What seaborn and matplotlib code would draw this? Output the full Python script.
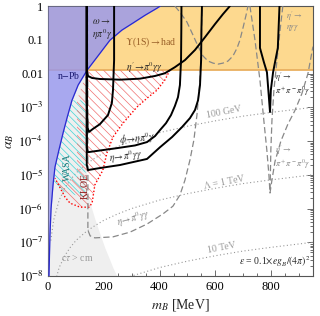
import numpy as np
import pandas as pd
import matplotlib
matplotlib.use("Agg")
import matplotlib.pyplot as plt
import seaborn as sns

sns.set_theme(style="ticks")
plt.rcParams.update({
    "font.family": ["Liberation Serif", "DejaVu Serif"],
    "mathtext.fontset": "stix",
    "hatch.linewidth": 0.5,
    "axes.edgecolor": "#555555",
    "xtick.color": "#555555",
    "ytick.color": "#555555",
    "xtick.labelcolor": "black",
    "ytick.labelcolor": "black",
})

# masses in MeV, couplings stored as log10(alpha_B)

# n-Pb scattering (blue)
npb_m = [3.5, 7, 11, 18, 25, 39, 54, 68, 86, 108, 140, 176, 222, 265, 305, 348, 391, 402]
npb_la = [-8.0, -6.8, -6.0, -5.3, -4.77, -4.27, -3.76, -3.32, -2.79, -2.34, -1.90, -1.51, -1.01,
          -0.71, -0.50, -0.27, -0.06, 0.0]

# Upsilon(1S) -> hadrons (orange band)
upsilon_alpha_min = 0.0127

# c tau > cm region (grey)
ctau_m = [247, 233, 219, 204, 190, 179, 168, 158, 151, 143, 138, 138]
ctau_la = [-8.0, -7.76, -7.47, -7.17, -6.84, -6.58, -6.31, -6.04, -5.84, -5.60, -5.3, 0.0]

# WASA (cyan hatch)
wasa_m = [86, 68, 54, 39, 25, 18, 36, 61, 97, 135, 135]
wasa_la = [-2.79, -3.32, -3.76, -4.27, -4.77, -5.24, -5.39, -5.51, -5.60, -5.66, -2.79]

# KLOE (red hatch, dotted edge)
kloe_m = [437, 419, 391, 355, 319, 269, 233, 211, 197, 168, 158, 147, 115, 79, 61, 25,
          104, 104, 140]
kloe_la = [-1.90, -2.19, -2.49, -2.73, -2.99, -3.47, -3.88, -4.36, -4.86, -5.30, -5.84, -5.96,
           -5.96, -5.84, -5.66, -5.10, -5.16, -2.79, -1.90]
kloe_edge_n = 16

# current limits (black solid)
omega_m = [237, 237, 233, 229, 215, 186, 161, 147, 142, 139, 139]
omega_la = [0.0, -1.60, -2.49, -2.87, -3.23, -3.50, -3.64, -3.73, -3.61, -2.79, 0.0]

etap_pi0gg_m = [139, 139, 143, 158, 186, 258, 330, 384, 419, 455, 491, 527, 563, 599, 627, 652]
etap_pi0gg_la = [0.0, -1.90, -2.07, -2.13, -2.16, -2.18, -2.15, -2.07, -1.99, -1.81, -1.60,
                 -1.30, -0.92, -0.53, -0.24, 0.0]

phi_m = [139, 139, 143, 186, 247, 312, 355, 384, 402, 423, 441, 455, 466, 473, 477, 478, 478.5]
phi_la = [0.0, -4.2, -4.33, -4.28, -4.21, -4.13, -4.03, -3.85, -3.67, -3.47, -3.23, -2.96,
          -2.70, -2.34, -1.60, -0.71, 0.0]

eta_m = [139, 139, 143, 186, 258, 355, 402, 445, 480, 509, 527, 538, 545, 549, 550, 552]
eta_la = [0.0, -4.7, -4.86, -4.80, -4.71, -4.53, -4.18, -3.88, -3.59, -3.32, -3.08, -2.79,
          -2.34, -1.60, -0.71, 0.0]

etap_3pi_m = [760, 760, 774, 785, 790, 796, 799, 807, 814, 824, 830]
etap_3pi_la = [0.0, -1.24, -1.66, -1.96, -2.49, -3.14, -2.49, -1.96, -1.66, -1.24, 0.0]

# projections (grey dashed)
eta_proj_m = [143, 143, 151, 168, 233, 294, 355, 412, 448, 473, 491, 509, 523, 534, 545, 550, 552]
eta_proj_la = [0.0, -6.64, -6.81, -6.87, -6.84, -6.70, -6.46, -6.16, -5.93, -5.60, -5.16, -4.56,
               -3.97, -3.23, -2.19, -1.01, 0.0]

upper_proj_m = [455, 473, 498, 520, 538, 556, 574, 592, 609, 627, 645, 663, 678, 688, 699, 710, 717]
upper_proj_la = [0.0, -0.18, -0.47, -0.86, -1.19, -1.48, -1.63, -1.69, -1.72, -1.69, -1.63,
                 -1.48, -1.24, -1.01, -0.65, -0.27, 0.0]

etap_3pi_proj_m = [724, 742, 760, 774, 785, 792, 796, 803, 814, 835, 860, 885, 910, 932, 950]
etap_3pi_proj_la = [0.0, -1.0, -2.2, -3.4, -4.3, -5.0, -5.54, -5.15, -4.6, -4.0, -3.5, -3.1,
                    -2.6, -2.0, -1.2]

etap_3pi_inner_m = [842, 832, 821, 810, 803, 799, 796]
etap_3pi_inner_la = [0.0, -0.71, -1.6, -2.49, -3.38, -4.27, -5.54]

# epsilon = 0.1 e g_B/(4 pi)^2 lines for Lambda = 100 GeV, 1 TeV, 10 TeV
lam_m = [10, 20, 40, 60, 80, 100, 130, 160, 200, 250, 300, 400, 500, 600, 700, 800, 950]
lam100_la = [-6.95, -6.35, -5.75, -5.40, -5.15, -4.95, -4.73, -4.55, -4.35, -4.16, -4.0, -3.75,
             -3.56, -3.40, -3.26, -3.15, -3.0]
lam1k_la = [-8.95, -8.35, -7.75, -7.40, -7.15, -6.95, -6.73, -6.55, -6.35, -6.16, -6.0, -5.75,
            -5.56, -5.40, -5.26, -5.15, -5.0]
lam10k_la = [-10.95, -10.35, -9.75, -9.40, -9.15, -8.95, -8.73, -8.55, -8.35, -8.16, -8.0,
             -7.75, -7.56, -7.40, -7.26, -7.15, -7.0]

xticks = [0, 200, 400, 600, 800]
yticks = [1, 1e-1, 1e-2, 1e-3, 1e-4, 1e-5, 1e-6, 1e-7, 1e-8]
ytick_labels = ["1", "0.1", "0.01", r"$10^{-3}$", r"$10^{-4}$", r"$10^{-5}$",
                r"$10^{-6}$", r"$10^{-7}$", r"$10^{-8}$"]


def a(la):
    return 10.0 ** np.asarray(la, dtype=float)


def curve(ax, m, la, **kw):
    d = pd.DataFrame({"m": m, "alpha": a(la)})
    sns.lineplot(data=d, x="m", y="alpha", sort=False, estimator=None, ax=ax, **kw)


fig = plt.figure(figsize=(3.2, 3.16), dpi=100)
ax = fig.add_axes([0.15, 0.1266, 0.828, 0.854])
ax.set_yscale("log")
ax.set_xlim(0, 950)
ax.set_ylim(1e-8, 1)

# regions
ax.fill_betweenx(a(ctau_la), 0, ctau_m, color="#efefef", lw=0, zorder=1)
ax.axhspan(upsilon_alpha_min, 1, color="#fdd98f", lw=0, zorder=1.5)
ax.axhline(upsilon_alpha_min, color="#e9b060", lw=1.3, zorder=1.6)
ax.fill(wasa_m, a(wasa_la), facecolor="none", edgecolor="#3fd6d6", hatch="\\\\\\\\\\",
        lw=0, zorder=2.5)
ax.fill(kloe_m, a(kloe_la), facecolor="none", edgecolor="#f07070", hatch="\\\\\\\\",
        lw=0, zorder=2.5)
ax.plot(kloe_m[:kloe_edge_n], a(kloe_la[:kloe_edge_n]), color="red", ls=(0, (1, 1.5)),
        lw=1.0, zorder=2.6)
ax.fill_betweenx(a(npb_la), 0, npb_m, color="#9696f0", alpha=0.8, lw=0, zorder=3.5)
ax.plot(npb_m, a(npb_la), color="#2a2ad0", lw=0.9, zorder=3.6)

# Lambda lines
for la in (lam100_la, lam1k_la, lam10k_la):
    curve(ax, lam_m, la, color="#999999", lw=0.8, linestyle=(0, (1, 2.2)), zorder=2)

# projections
dash = (0, (5, 2.5))
for m, la in ((eta_proj_m, eta_proj_la), (upper_proj_m, upper_proj_la),
              (etap_3pi_proj_m, etap_3pi_proj_la), (etap_3pi_inner_m, etap_3pi_inner_la)):
    curve(ax, m, la, color="#888888", lw=0.9, linestyle=dash, zorder=3)

# current limits
for m, la in ((omega_m, omega_la), (etap_pi0gg_m, etap_pi0gg_la), (phi_m, phi_la),
              (eta_m, eta_la), (etap_3pi_m, etap_3pi_la)):
    curve(ax, m, la, color="black", lw=1.4, zorder=6)

# labels
fs = 7
fs_s = 6
T = ax.transAxes
ax.text(0.034, 0.744, r"n$-$Pb", transform=T, fontsize=fs, color="#1a1a70", va="center", zorder=8)
ax.text(0.165, 0.915, "$\\omega\\to$\n$\\eta\\pi^0\\gamma$", transform=T, fontsize=fs,
        va="center", linespacing=1.1, zorder=8)
ax.text(0.389, 0.867, r"$\Upsilon$(1S)$\to$had", transform=T, fontsize=fs, color="#9a6028",
        ha="center", va="center", zorder=8)
ax.text(0.366, 0.772, r"$\eta'\!\to\!\pi^0\gamma\gamma$", transform=T, fontsize=fs,
        ha="center", va="center", zorder=8)
ax.text(0.9, 0.944, "$\\eta'\\to$\n$\\eta\\gamma\\gamma$", transform=T, fontsize=fs_s,
        color="#888888", va="center", linespacing=1.1, zorder=8)
ax.text(0.855, 0.711, "$\\eta'\\to$\n$\\pi^+\\pi^-\\pi^0\\gamma$", transform=T, fontsize=fs_s,
        va="center", linespacing=1.1, zorder=8)
ax.text(0.855, 0.441, "$\\eta'\\to$\n$\\pi^+\\pi^-\\pi^0\\gamma$", transform=T, fontsize=fs_s,
        color="#888888", va="center", linespacing=1.1, zorder=8)
ax.text(0.664, 0.607, "100 GeV", transform=T, fontsize=fs, color="#999999", rotation=11,
        ha="center", va="center", zorder=8)
ax.text(0.664, 0.352, r"$\Lambda$ = 1 TeV", transform=T, fontsize=fs, color="#999999",
        rotation=11, ha="center", va="center", zorder=8)
ax.text(0.657, 0.104, "10 TeV", transform=T, fontsize=fs, color="#999999", rotation=11,
        ha="center", va="center", zorder=8)
ax.text(0.99, 0.052, r"$\varepsilon$ = 0.1$\times$$e g_B/(4\pi)^2$", transform=T,
        fontsize=fs, ha="right", va="center", zorder=8)
ax.text(0.072, 0.404, "WASA", transform=T, fontsize=fs, color="#1f7878", rotation=90,
        ha="center", va="center", zorder=8)
ax.text(0.140, 0.333, "KLOE", transform=T, fontsize=fs, color="#8b1a1a", rotation=90,
        ha="center", va="center", zorder=8)
ax.text(0.109, 0.067, r"c$\tau$ > cm", transform=T, fontsize=fs, color="#999999",
        ha="center", va="center", zorder=8)
ax.text(0.336, 0.509, r"$\phi\!\to\!\eta\pi^0\gamma$", transform=T, fontsize=fs, rotation=5,
        ha="center", va="center", zorder=8)
ax.text(0.294, 0.441, r"$\eta\!\to\!\pi^0\gamma\gamma$", transform=T, fontsize=fs, rotation=7,
        ha="center", va="center", zorder=8)
ax.text(0.321, 0.213, r"$\eta\!\to\!\pi^0\gamma\gamma$", transform=T, fontsize=fs,
        color="#888888", rotation=15, ha="center", va="center", zorder=8)

# axes
ax.set_xticks(xticks)
ax.set_xticks(np.arange(0, 951, 50), minor=True)
ax.set_yticks(yticks)
ax.set_yticklabels(ytick_labels)
ax.yaxis.set_minor_locator(matplotlib.ticker.LogLocator(base=10, subs=np.arange(2, 10), numticks=20))
ax.yaxis.set_minor_formatter(matplotlib.ticker.NullFormatter())
ax.tick_params(which="both", direction="in", top=True, right=True, labelsize=9, width=0.6)
ax.tick_params(which="major", length=4)
ax.tick_params(which="minor", length=2)
ax.set_xlabel(r"$m_B$ [MeV]", fontsize=10, labelpad=3)
ax.set_ylabel(r"$\alpha_B$", fontsize=10, labelpad=2)
for s in ax.spines.values():
    s.set_linewidth(0.8)

fig.savefig("out.png", dpi=100)
